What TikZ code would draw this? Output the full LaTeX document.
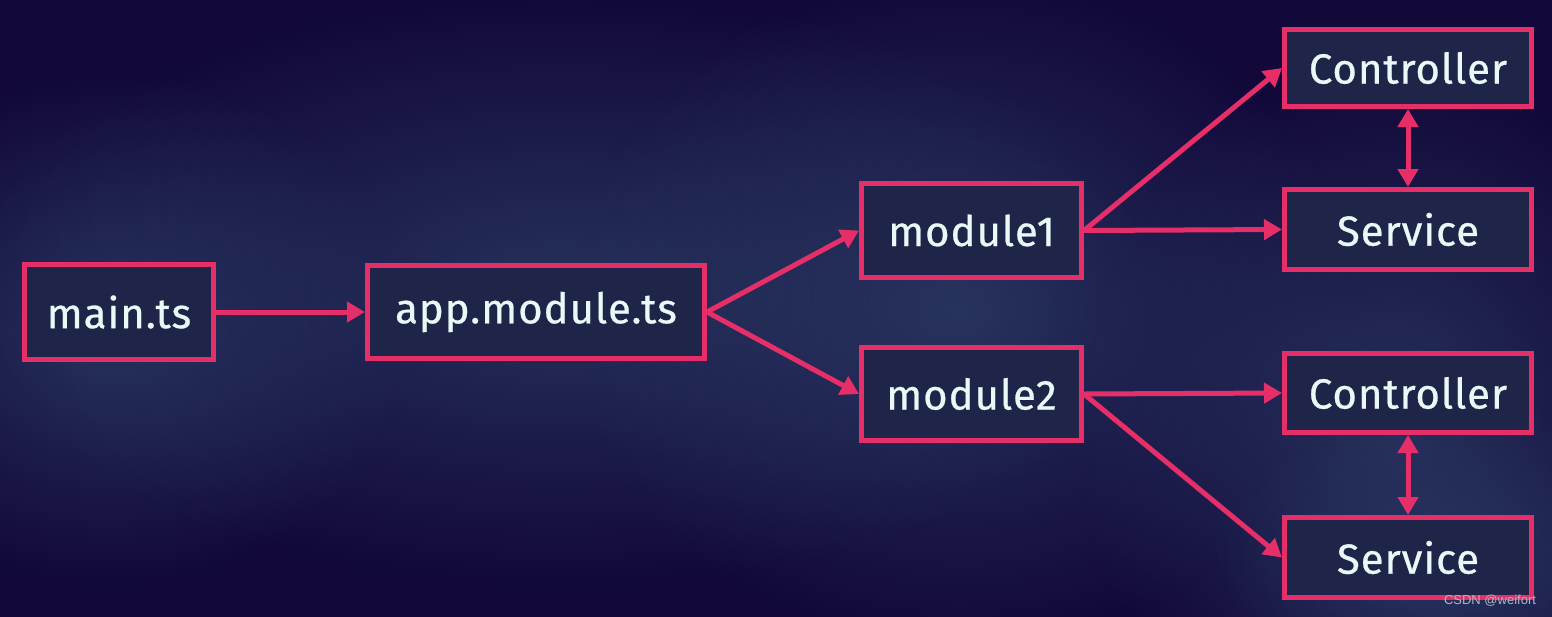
\documentclass[tikz,border=0pt]{standalone}
\usepackage{fontspec}
\setmainfont{Fira Sans}
\newfontfamily\boxfont[LetterSpace=2.2,FakeBold=0.6]{Fira Sans}
\newfontfamily\markfont{Liberation Sans}
\usetikzlibrary{positioning,arrows.meta,fadings}
\definecolor{night}{HTML}{12083A}
\definecolor{haze}{HTML}{2A3862}
\definecolor{boxfill}{HTML}{1F2549}
\definecolor{rose}{HTML}{E62E68}
\definecolor{frost}{HTML}{EAF8F8}
\definecolor{mist}{HTML}{B4B4C4}
\tikzfading[name=softglow,inner color=transparent!0,outer color=transparent!100]

\begin{document}
\begin{tikzpicture}[
      x=0.5pt,y=-0.5pt,
      box/.style={draw=rose,fill=boxfill,line width=2.5pt,rectangle,text=frost,
        font=\boxfont\fontsize{21}{24}\selectfont},
      glow/.style={fill=haze,path fading=softglow,fill opacity=0.85},
      arr/.style={-{Triangle[length=9pt,width=10pt]},rose,line width=2.5pt},
      both/.style={{Triangle[length=9pt,width=10pt]}-{Triangle[length=9pt,width=10pt]},rose,line width=2.5pt}]
      \useasboundingbox (0,0) rectangle (1552,616);
      % background glow
      \fill[night] (-10,-10) rectangle (1562,626);
      \begin{scope}
        \clip (0,0) rectangle (1552,616);
        \fill[glow] (110,330) ellipse [x radius=150pt,y radius=130pt];
        \fill[glow] (560,290) ellipse [x radius=300pt,y radius=150pt];
        \fill[glow] (960,310) ellipse [x radius=200pt,y radius=170pt];
        \fill[glow] (1390,420) ellipse [x radius=160pt,y radius=180pt];
        \fill[glow] (1450,560) ellipse [x radius=120pt,y radius=80pt];
      \end{scope}
      % boxes
      \node[box,minimum width=94.5pt,minimum height=47.5pt] (main) at (119,312) {main.ts};
      \node[box,minimum width=168.5pt,minimum height=46.5pt] (app) at (536,312) {app.module.ts};
      \node[box,minimum width=110pt,minimum height=47pt] (mod1) at (971.5,230.5) {module1};
      \node[box,minimum width=110pt,minimum height=46.5pt] (mod2) at (971.5,394) {module2};
      \node[box,minimum width=123.5pt,minimum height=38.5pt] (ctrl1) at (1408,68) {Controller};
      \node[box,minimum width=123.5pt,minimum height=40pt,below=39pt of ctrl1] (serv1) {Service};
      \node[box,minimum width=123.5pt,minimum height=39.5pt] (ctrl2) at (1408,393) {Controller};
      \node[box,minimum width=123.5pt,minimum height=40pt,below=40pt of ctrl2] (serv2) {Service};
      \node[text=mist,font=\markfont\fontsize{6.5}{7}\selectfont] (mark) at (1490,601) {CSDN @weifort};
      % links
      \draw[arr] (main) -- (app);
      \draw[arr] (app.east) -- (mod1.west);
      \draw[arr] (app.east) -- (mod2.west);
      \draw[arr] (mod1.east) -- (ctrl1.west);
      \draw[arr] (mod1.east) -- (serv1.west);
      \draw[arr] (mod2.east) -- (ctrl2.west);
      \draw[arr] (mod2.east) -- (serv2.west);
      \draw[both] (ctrl1) -- (serv1);
      \draw[both] (ctrl2) -- (serv2);
    \end{tikzpicture}
\end{document}
